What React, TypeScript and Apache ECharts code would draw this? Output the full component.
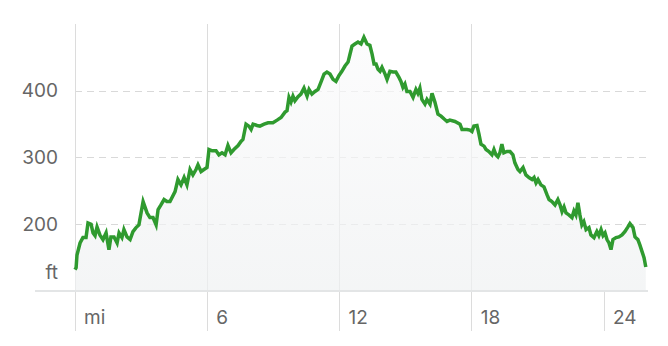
import React, { useEffect, useRef } from "react";
import * as echarts from "echarts";

// distance along route (mi)
const distances: number[] = [
  0.0, 0.05, 0.09, 0.23, 0.36, 0.5, 0.59, 0.73, 0.82, 0.91, 1.0, 1.13, 1.27, 1.41, 1.54, 1.63, 1.77, 1.91, 2.0, 2.13,
  2.22, 2.36, 2.5, 2.63, 2.77, 2.9, 3.09, 3.27, 3.4, 3.54, 3.68, 3.77, 3.9, 4.04, 4.17, 4.31, 4.54, 4.67, 4.81, 4.95,
  5.08, 5.22, 5.35, 5.49, 5.58, 5.72, 5.85, 5.99, 6.08, 6.22, 6.4, 6.53, 6.67, 6.81, 6.94, 7.08, 7.21, 7.4, 7.53, 7.62,
  7.76, 7.89, 7.99, 8.08, 8.26, 8.39, 8.58, 8.76, 8.98, 9.17, 9.35, 9.53, 9.62, 9.71, 9.8, 9.89, 9.98, 10.12, 10.25, 10.39,
  10.53, 10.62, 10.75, 10.89, 11.03, 11.16, 11.3, 11.43, 11.57, 11.71, 11.84, 11.98, 12.11, 12.25, 12.39, 12.48, 12.57, 12.7, 12.84, 12.98,
  13.11, 13.25, 13.38, 13.48, 13.57, 13.66, 13.75, 13.84, 13.93, 14.07, 14.16, 14.29, 14.43, 14.56, 14.7, 14.79, 14.88, 14.97, 15.06, 15.2,
  15.34, 15.47, 15.56, 15.65, 15.74, 15.88, 15.97, 16.11, 16.2, 16.33, 16.47, 16.61, 16.74, 16.88, 17.01, 17.24, 17.47, 17.56, 17.79, 17.92,
  18.01, 18.1, 18.24, 18.33, 18.42, 18.56, 18.65, 18.78, 18.92, 19.01, 19.1, 19.19, 19.28, 19.37, 19.46, 19.6, 19.74, 19.87, 19.96, 20.1,
  20.19, 20.33, 20.46, 20.6, 20.74, 20.83, 20.92, 21.01, 21.14, 21.28, 21.42, 21.51, 21.64, 21.78, 21.91, 22.01, 22.1, 22.19, 22.28, 22.41,
  22.55, 22.64, 22.73, 22.82, 22.91, 23.0, 23.09, 23.19, 23.32, 23.41, 23.55, 23.68, 23.77, 23.87, 23.96, 24.05, 24.14, 24.23, 24.32, 24.41,
  24.55, 24.68, 24.82, 24.95, 25.09, 25.18, 25.32, 25.41, 25.54, 25.63, 25.73, 25.82, 25.9,
];

// elevation (ft)
const elevations: number[] = [
  132, 135, 154, 172, 180, 180, 202, 200, 187, 183, 196, 184, 177, 187, 162, 181, 181, 172, 187, 180,
  192, 181, 177, 189, 195, 199, 234, 217, 210, 210, 199, 222, 229, 237, 234, 234, 249, 267, 259, 270,
  259, 282, 274, 282, 289, 279, 282, 285, 312, 310, 310, 304, 307, 304, 318, 307, 312, 318, 324, 327,
  350, 347, 342, 350, 348, 347, 350, 352, 352, 356, 360, 368, 370, 390, 383, 392, 385, 391, 395, 404,
  392, 402, 395, 399, 402, 413, 425, 428, 425, 417, 414, 423, 429, 437, 443, 455, 467, 470, 473, 470,
  480, 470, 468, 455, 440, 440, 432, 429, 435, 425, 417, 429, 428, 428, 420, 414, 405, 410, 399, 399,
  390, 402, 396, 404, 387, 380, 387, 380, 396, 383, 365, 362, 358, 354, 356, 354, 350, 342, 342, 341,
  339, 347, 348, 335, 320, 317, 312, 309, 304, 312, 304, 301, 307, 320, 307, 309, 309, 304, 292, 282,
  279, 285, 274, 270, 267, 270, 262, 267, 259, 256, 244, 237, 234, 229, 237, 229, 219, 226, 217, 214,
  210, 220, 214, 232, 214, 199, 204, 192, 195, 184, 180, 189, 183, 192, 183, 187, 177, 172, 162, 177,
  180, 181, 184, 189, 196, 201, 195, 181, 177, 169, 159, 150, 136,
];

const xTicks: number[] = [0, 6, 12, 18, 24];
const yMin = 100;
const yMax = 500;

export default function App() {
  const ref = useRef<HTMLDivElement>(null);
  useEffect(() => {
    if (!ref.current) return;
    const chart = echarts.init(ref.current, null, { renderer: "svg" });
    const data = distances.map((d, i) => [d, elevations[i]]);
    const font = 'Inter, "Noto Sans", sans-serif';
    chart.setOption({
      animation: false,
      grid: { left: 75, right: 20, top: 24, bottom: 55 },
      xAxis: {
        type: "value",
        min: 0,
        max: 26,
        interval: 6,
        axisLine: { show: false },
        axisTick: {
          show: true,
          length: 40,
          customValues: xTicks,
          lineStyle: { color: "#dcdcdc", width: 1 },
        },
        axisLabel: {
          customValues: xTicks,
          formatter: (v: number) => (v === 0 ? "mi" : String(v)),
          align: "left",
          padding: [0, 0, 0, 9],
          margin: 17,
          color: "#666",
          fontSize: 19,
          fontFamily: font,
        },
        splitLine: {
          show: true,
          showMaxLine: false,
          lineStyle: { color: "#dcdcdc", width: 1 },
        },
      },
      yAxis: {
        type: "value",
        min: yMin,
        max: yMax,
        interval: 100,
        axisLine: { show: false },
        axisTick: { show: false },
        axisLabel: {
          formatter: (v: number) => (v === yMin ? "{ft|ft}" : v === yMax ? "" : String(v)),
          margin: 17,
          color: "#666",
          fontSize: 19,
          fontFamily: font,
          rich: {
            ft: { color: "#666", fontSize: 19, fontFamily: font, padding: [0, 0, 38, 0] },
          },
        },
        splitLine: {
          show: true,
          showMinLine: false,
          showMaxLine: false,
          lineStyle: { color: "#d9d9d9", type: [7, 5], width: 1 },
        },
      },
      graphic: [
        {
          type: "line",
          shape: { x1: 35, y1: 291, x2: 648, y2: 291 },
          style: { stroke: "#e3e5e6", lineWidth: 2 },
          z: 10,
        },
      ],
      series: [
        {
          type: "line",
          data,
          showSymbol: false,
          symbol: "none",
          lineStyle: { color: "#2f9a2f", width: 3.5, join: "miter" },
          areaStyle: {
            origin: "start",
            color: new echarts.graphic.LinearGradient(0, 0, 0, 1, [
              { offset: 0, color: "#fbfbfc" },
              { offset: 1, color: "#eff1f2" },
            ]),
          },
          z: 5,
        },
      ],
    });
    return () => chart.dispose();
  }, []);
  return (
    <div
      ref={ref}
      style={{ position: "absolute", left: 0, top: 0, width: 668, height: 346 }}
    />
  );
}
